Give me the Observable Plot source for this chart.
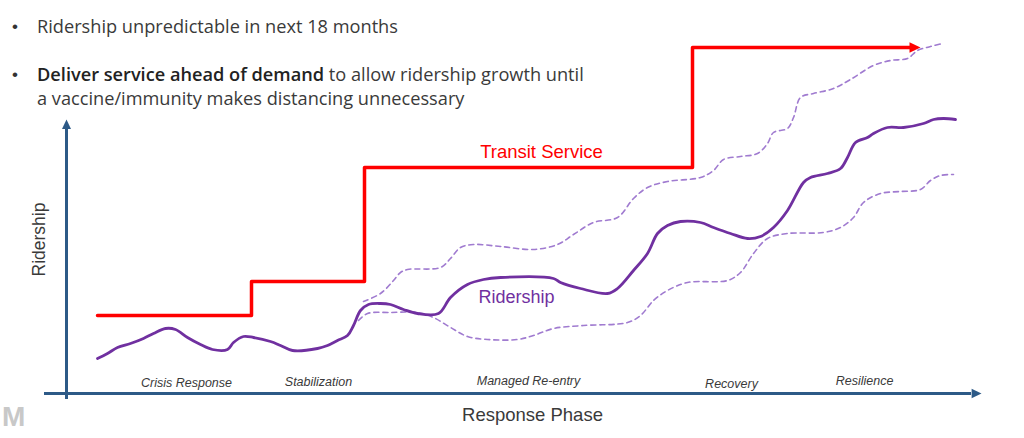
<!DOCTYPE html>
<html>
<head>
<meta charset="utf-8">
<script src="https://cdn.jsdelivr.net/npm/d3@7"></script>
<script src="https://cdn.jsdelivr.net/npm/@observablehq/plot@0.6"></script>
<style>
  html, body { margin: 0; padding: 0; background: #fff; }
  #wrap { position: relative; width: 1024px; height: 438px; overflow: hidden; font-family: "Liberation Sans", Arial, sans-serif; }
  #chart { position: absolute; left: 0; top: 0; }
  .bullets { position: absolute; left: 0; top: 0; color: #3a3a3a; font-size: 18.2px; font-family: "Open Sans", "Liberation Sans", sans-serif; }
  .b { position: absolute; white-space: nowrap; line-height: 22px; }
  .dot { font-family: "Liberation Sans", Arial, sans-serif; font-size: 17px; color: #333; }
  .logo { position: absolute; left: 2px; top: 403px; font-size: 28px; line-height: 28px; font-weight: bold; color: #c8c8c8; }
</style>
</head>
<body>
<div id="wrap">
  <div id="chart"></div>
  <div class="bullets">
    <div class="b dot" style="left:12px; top:16px;">•</div>
    <div class="b" style="left:37px; top:15px;">Ridership unpredictable in next 18 months</div>
    <div class="b dot" style="left:12px; top:64px;">•</div>
    <div class="b" style="left:37px; top:63px;"><b style="color:#222; font-weight:600">Deliver service ahead of demand</b> to allow ridership growth until</div>
    <div class="b" style="left:37px; top:87px;">a vaccine/immunity makes distancing unnecessary</div>
  </div>
  <div class="logo">M</div>
</div>
<script>
// Transit service levels (step function)
const serviceT = [3.1, 18.5, 29.8, 62.6, 84.6];
const serviceV = [15.6, 22.4, 45.2, 69.2, 69.2];

// Expected ridership
const mainT = [3.1,4.1,5.1,6.4,7.7,8.7,9.9,10.9,12.1,13.4,14.6,16.1,16.7,17.7,18.7,20.4,21.4,22.6,25.1,26.1,27.1,28.1,28.7,29.4,30.2,31.4,32.4,33.7,35.1,37.2,38.4,40.1,41.7,43.4,48.7,49.4,51.4,54.1,55.1,56.7,58.1,59.1,60.1,61.4,63.4,64.7,66.4,68.1,69.4,70.7,72.1,73.7,74.4,76.1,77.4,78.1,78.9,80.1,80.7,82.1,83.7,85.7,86.7,87.7,88.9];
const mainV = [7.0,8.0,9.2,10.0,11.0,12.0,13.0,12.8,11.2,9.8,8.8,8.8,10.2,11.4,11.2,10.4,9.6,8.6,9.0,9.6,10.6,11.6,13.6,16.6,17.8,18.0,17.8,16.8,16.0,16.0,19.2,21.8,22.8,23.2,23.0,22.2,21.0,20.0,21.0,24.6,28.0,32.0,33.6,34.4,34.2,33.2,32.0,31.0,31.4,33.2,36.6,42.2,43.2,44.0,45.0,47.2,50.2,51.2,52.0,53.2,53.2,54.0,54.8,55.0,54.8];

// Upper uncertainty bound
const upperT = [29.7,31.4,32.7,33.4,34.1,37.4,38.4,39.4,40.7,43.4,46.7,49.1,50.7,52.7,55.1,56.7,58.1,60.1,63.4,64.7,65.7,67.4,69.1,70.1,70.7,72.1,72.7,73.4,74.7,76.7,78.4,80.7,82.4,84.1,85.1,86.4,87.6];
const upperV = [18.4,20.0,22.6,24.2,24.8,25.2,27.0,29.2,29.8,29.4,28.8,29.8,31.8,34.2,35.2,39.0,41.2,42.4,43.2,44.6,46.8,47.4,48.0,50.0,52.2,53.0,55.2,59.2,60.0,61.0,62.8,65.6,66.6,67.0,68.6,69.4,70.0];

// Lower uncertainty bound
const lowerT = [29.2,30.1,32.4,35.1,36.7,38.4,40.1,42.1,45.1,46.7,48.7,51.7,56.1,57.4,58.7,60.1,62.1,66.1,67.4,68.7,70.1,72.1,75.7,77.4,78.7,79.7,81.4,83.4,85.4,86.4,87.4,88.7];
const lowerV = [14.6,16.0,16.2,16.2,15.2,13.2,11.4,10.8,10.8,11.6,13.0,13.6,14.2,15.6,18.6,20.6,22.2,22.6,24.2,28.0,31.0,32.0,32.2,33.2,35.2,38.2,40.0,40.4,40.8,42.6,43.6,43.8];

// Phase labels
const phaseNames = ["Crisis Response", "Stabilization", "Managed Re-entry", "Recovery", "Resilience"];
const phaseT = [12.0, 25.2, 46.2, 66.5, 79.8];
const phaseV = [2.2, 2.4, 2.6, 2.0, 2.6];

const zip = (xs, ys) => xs.map((x, i) => ({t: x, v: ys[i]}));
const service = zip(serviceT, serviceV);
const main = zip(mainT, mainV);
const upper = zip(upperT, upperV);
const lower = zip(lowerT, lowerV);
const phases = phaseNames.map((n, i) => ({name: n, t: phaseT[i], v: phaseV[i]}));

// arrowhead symbols, tip at the anchor point
const triRight = {draw(ctx, size) { const s = Math.sqrt(size / Math.PI); ctx.moveTo(0, 0); ctx.lineTo(-2.2 * s, -1.05 * s); ctx.lineTo(-2.2 * s, 1.05 * s); ctx.closePath(); }};
const triUp = {draw(ctx, size) { const s = Math.sqrt(size / Math.PI); ctx.moveTo(0, 0); ctx.lineTo(-1.0 * s, 2.1 * s); ctx.lineTo(1.0 * s, 2.1 * s); ctx.closePath(); }};

const axisColor = "#2d5a87";
const purple = "#7030a0";
const purpleLight = "#a07bd0";

const chart = Plot.plot({
  width: 1024,
  height: 438,
  margin: 0,
  x: {domain: [0, 91], range: [66, 976], axis: null},
  y: {domain: [0, 70], range: [393, 43], axis: null},
  style: {fontFamily: "Liberation Sans, Arial, sans-serif", background: "transparent", overflow: "visible"},
  marks: [
    // axes
    Plot.ruleX([0], {y1: -1.2, y2: 53.5, stroke: axisColor, strokeWidth: 3}),
    Plot.ruleY([0], {x1: -2.2, x2: 90.5, stroke: axisColor, strokeWidth: 3}),
    Plot.dot([{t: 0, v: 54.8}], {x: "t", y: "v", symbol: triUp, r: 4.5, fill: axisColor, stroke: null}),
    Plot.dot([{t: 91.5, v: 0}], {x: "t", y: "v", symbol: triRight, r: 4.5, fill: axisColor, stroke: null}),
    // uncertainty bounds
    Plot.line(upper, {x: "t", y: "v", curve: "catmull-rom", stroke: purpleLight, strokeWidth: 1.6, strokeDasharray: "5,4"}),
    Plot.line(lower, {x: "t", y: "v", curve: "catmull-rom", stroke: purpleLight, strokeWidth: 1.6, strokeDasharray: "5,4"}),
    // ridership
    Plot.line(main, {x: "t", y: "v", curve: "catmull-rom", stroke: purple, strokeWidth: 2.8}),
    // transit service
    Plot.line(service, {x: "t", y: "v", curve: "step-after", stroke: "#ff0000", strokeWidth: 3.5}),
    Plot.dot([service[service.length - 1]], {x: (d) => d.t + 0.8, y: "v", symbol: triRight, r: 5, fill: "#ff0000", stroke: null}),
    // labels
    Plot.text(["Transit Service"], {x: 47.5, y: 48.2, text: (d) => d, fill: "#ff0000", fontSize: 18.5, textAnchor: "middle", lineAnchor: "middle"}),
    Plot.text(["Ridership"], {x: 45.0, y: 19.2, text: (d) => d, fill: purple, fontSize: 18, textAnchor: "middle", lineAnchor: "middle"}),
    Plot.text(phases, {x: "t", y: "v", text: "name", fill: "#3a3a3a", fontSize: 12.5, fontStyle: "italic", textAnchor: "middle", lineAnchor: "middle"}),
    Plot.text(["Ridership"], {x: -2.75, y: 30.8, text: (d) => d, rotate: -90, fill: "#3a3a3a", fontSize: 17.5, textAnchor: "middle", lineAnchor: "middle"}),
    Plot.text(["Response Phase"], {x: 46.6, y: -4.4, text: (d) => d, fill: "#3a3a3a", fontSize: 18.5, textAnchor: "middle", lineAnchor: "middle"})
  ]
});
document.getElementById("chart").appendChild(chart);
</script>
</body>
</html>
